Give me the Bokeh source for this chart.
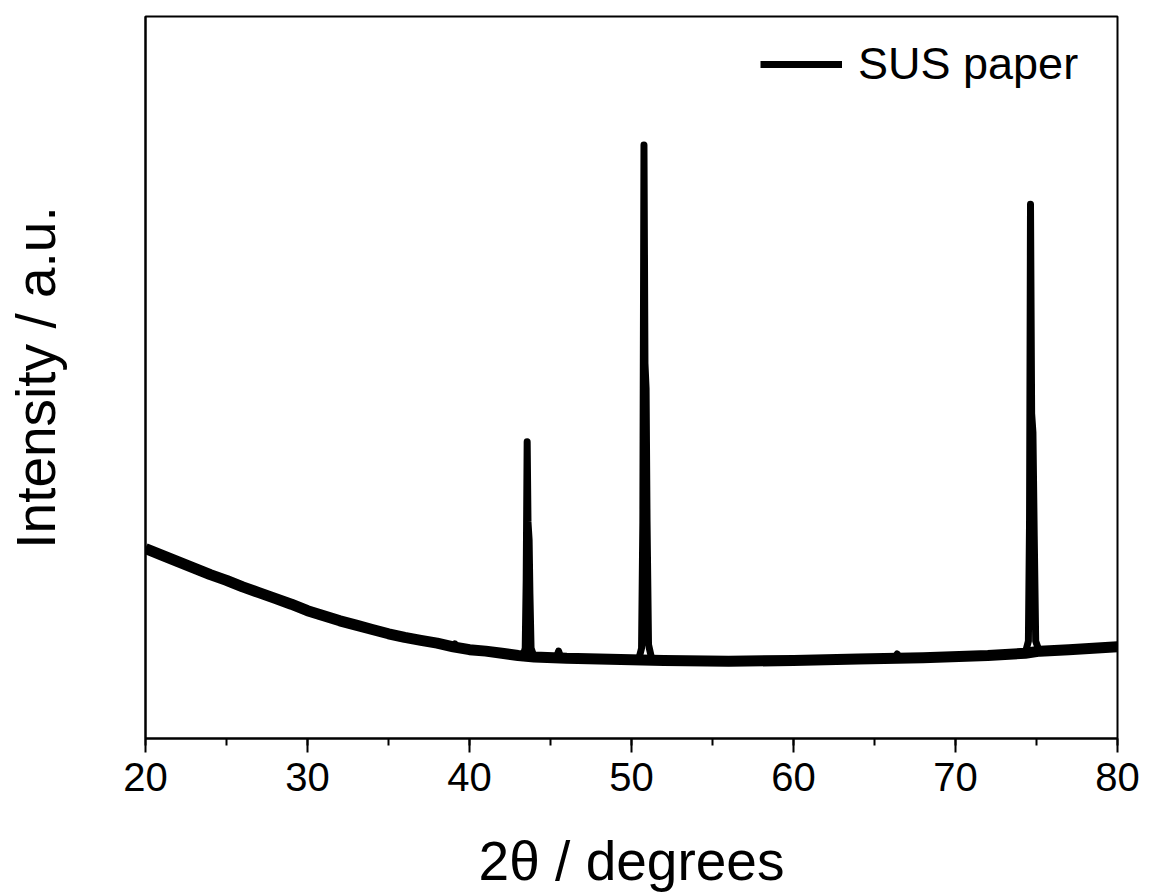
from bokeh.plotting import figure
from bokeh.models import Range1d, SingleIntervalTicker, FixedTicker, Legend, LegendItem
from bokeh.embed import file_html
from bokeh.resources import INLINE

# XRD pattern of SUS paper (intensity in arbitrary units)
two_theta = [20, 22, 24, 26, 28, 30, 32, 34, 36, 38, 39.0, 39.1, 39.2, 40, 42,
             43.30, 43.44, 43.50, 43.56, 43.61, 43.68, 43.73, 43.80, 44.0,
             45.35, 45.5, 45.65, 47, 49,
             50.45, 50.62, 50.70, 50.77, 50.83, 50.90, 50.96, 51.05, 51.25,
             53, 56, 60, 64, 66.25, 66.4, 66.55, 68, 72,
             74.30, 74.50, 74.57, 74.63, 74.70, 74.78, 74.86, 74.95, 75.15, 77, 80]
intensity = [263, 245, 227, 210, 194, 177, 163, 151, 140, 132, 127, 131, 126, 123, 118,
             114, 125, 220, 411, 300, 275, 200, 125, 112,
             111, 121, 111, 110, 109,
             110, 125, 300, 822, 520, 485, 300, 130, 110,
             108, 107, 108, 110, 111, 117, 111, 112, 115,
             118, 135, 300, 740, 450, 424, 280, 135, 122, 123, 127]

# baseline (noisy background band centre)
bg_two_theta = [20, 21, 22, 23, 24, 25, 26, 27, 28, 29, 30, 31, 32, 33, 34, 35, 36, 37, 38, 39,
                40, 41, 42, 43, 44, 46, 48, 52, 56, 60, 64, 68, 72, 74.3, 75.2, 77, 80]
bg_intensity = [263, 254, 245, 236, 227, 219, 210, 202, 194, 186, 177, 170, 163, 157, 151, 145, 140, 136, 132, 127,
                123, 121, 118, 115, 113, 111, 110, 108, 107, 108, 110, 112, 115, 118, 121, 123, 127]

x_ticks_interval = 10
series_name = "SUS paper"
x_title = "2θ / degrees"
y_title = "Intensity / a.u."

FONT = "Liberation Sans"

p = figure(width=1142, height=894, output_backend="svg", toolbar_location=None,
           x_range=Range1d(20, 80), y_range=Range1d(0, 1000),
           min_border_left=145, min_border_right=25, min_border_top=16, min_border_bottom=156)
p.background_fill_color = "white"
p.border_fill_color = "white"
p.outline_line_color = "black"
p.outline_line_width = 2
p.xgrid.visible = False
p.ygrid.visible = False

bg = p.line(x=bg_two_theta, y=bg_intensity, line_color="black", line_width=11, line_join="round")
main = p.line(x=two_theta, y=intensity, line_color="black", line_width=7, line_join="round")

xa = p.xaxis[0]
xa.ticker = SingleIntervalTicker(interval=x_ticks_interval, num_minor_ticks=2)
xa.axis_line_width = 2
xa.axis_line_color = "black"
xa.major_tick_line_width = 2
xa.minor_tick_line_width = 2
xa.major_tick_in = 0
xa.major_tick_out = 14
xa.minor_tick_in = 0
xa.minor_tick_out = 7
xa.major_label_text_font = FONT
xa.major_label_text_font_size = "40px"
xa.major_label_text_color = "black"
xa.major_label_standoff = 10
xa.axis_label = x_title
xa.axis_label_text_font = FONT
xa.axis_label_text_font_size = "55px"
xa.axis_label_text_font_style = "normal"
xa.axis_label_text_color = "black"
xa.axis_label_standoff = 36

ya = p.yaxis[0]
ya.ticker = FixedTicker(ticks=[])
ya.axis_line_width = 2
ya.axis_line_color = "black"
ya.major_tick_out = 0
ya.major_tick_in = 0
ya.minor_tick_out = 0
ya.minor_tick_in = 0
ya.axis_label = y_title
ya.axis_label_text_font = FONT
ya.axis_label_text_font_size = "55px"
ya.axis_label_text_font_style = "normal"
ya.axis_label_text_color = "black"
ya.axis_label_standoff = 79

legend = Legend(items=[LegendItem(label=series_name, renderers=[main])],
                location="top_right", glyph_width=82, label_standoff=16,
                label_text_font=FONT, label_text_font_size="45px", label_text_color="black",
                border_line_color=None, background_fill_alpha=0, padding=10, margin=22,
                label_height=30, glyph_height=30, label_width=237)
p.add_layout(legend)

open("out.html", "w").write(file_html(p, INLINE))
